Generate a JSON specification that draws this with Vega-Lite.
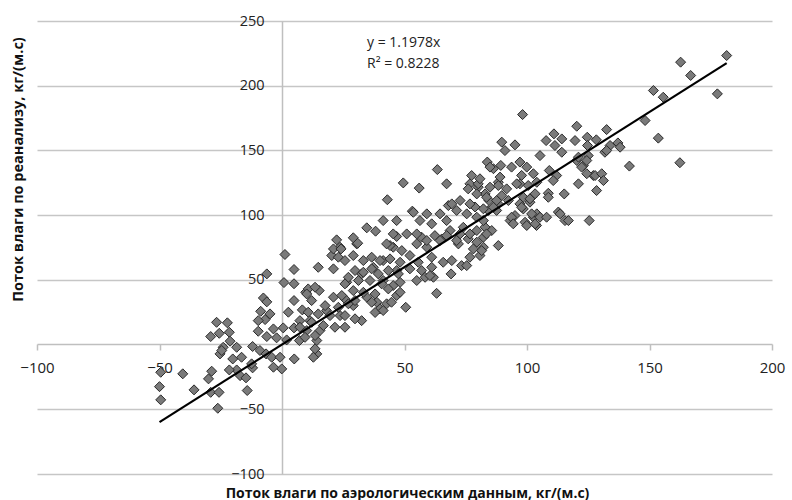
{
  "$schema": "https://vega.github.io/schema/vega-lite/v6.json",
  "width": 735,
  "height": 453,
  "autosize": {"type": "none"},
  "padding": {"left": 37, "top": 21, "right": 20, "bottom": 26},
  "background": "white",
  "config": {"view": {"stroke": null}},
  "datasets": {
    "pts": [
      {"x":1.2,"y":69.6},{"x":-6.2,"y":54.6},{"x":4.9,"y":58},{"x":0.8,"y":47.9},{"x":4.9,"y":47},{"x":9.7,"y":40.4},{"x":-7.6,"y":36},{"x":-6.2,"y":33},{"x":4.9,"y":34},{"x":8.3,"y":26.8},{"x":2.6,"y":25},{"x":-8.7,"y":25.7},{"x":-4.9,"y":23.7},{"x":-6.9,"y":19.3},{"x":-9.7,"y":18.5},{"x":-26.7,"y":17.2},{"x":-22.3,"y":16.8},{"x":-29.1,"y":6.2},{"x":-25.6,"y":8.7},{"x":-21.5,"y":9.5},{"x":-9.7,"y":10.3},{"x":-3.5,"y":12.1},{"x":0.5,"y":12.9},{"x":4.9,"y":12.9},{"x":7.3,"y":18.5},{"x":10.1,"y":10.8},{"x":-6.2,"y":6.2},{"x":-2.2,"y":5.2},{"x":1.9,"y":3.6},{"x":7.1,"y":3.1},{"x":-21.2,"y":2.6},{"x":-24,"y":-2.1},{"x":-18.5,"y":-2.1},{"x":-25.3,"y":-7.2},{"x":-12,"y":-1.5},{"x":-9,"y":-4.6},{"x":-6.5,"y":-7.2},{"x":-4.2,"y":-9.8},{"x":-0.8,"y":-9.8},{"x":-20.1,"y":-11.1},{"x":-16.5,"y":-9.8},{"x":5,"y":-11.1},{"x":-0.1,"y":-18.8},{"x":-3.5,"y":-17.5},{"x":-12,"y":-18},{"x":-18.5,"y":-19.6},{"x":-21.5,"y":-19.6},{"x":-28.7,"y":-20.6},{"x":-49.5,"y":-21.4},{"x":-40.5,"y":-22.6},{"x":-30,"y":-26.5},{"x":-17.1,"y":-24},{"x":-14.7,"y":-25.7},{"x":-50,"y":-32.5},{"x":-35.9,"y":-35},{"x":-29.1,"y":-36.9},{"x":-25.7,"y":-36.9},{"x":-14.2,"y":-35.5},{"x":-49.5,"y":-42.7},{"x":-26.2,"y":-49.2},{"x":-24.6,"y":-4.6},{"x":-12.4,"y":-14.9},
      {"x":14.8,"y":59.7},{"x":20.3,"y":68.8},{"x":23.7,"y":75.2},{"x":30.5,"y":77.8},{"x":21,"y":58.5},{"x":26.4,"y":48.1},{"x":32.5,"y":54.6},{"x":37.3,"y":59.7},{"x":41.3,"y":64.9},{"x":45.4,"y":75.2},{"x":46.8,"y":57.2},{"x":10.7,"y":43},{"x":15.2,"y":41.7},{"x":21,"y":36.6},{"x":25.7,"y":35.3},{"x":29.1,"y":30.1},{"x":34.6,"y":36.6},{"x":38.7,"y":32.7},{"x":42.7,"y":31.5},{"x":46.8,"y":37.9},{"x":18.2,"y":26.3},{"x":23.7,"y":22.4},{"x":32.5,"y":18.5},{"x":11.4,"y":18.5},{"x":15.5,"y":10.8},{"x":7.3,"y":13.4},{"x":14.2,"y":3.1},{"x":14.2,"y":-7.2},{"x":45.4,"y":45.6},{"x":41.3,"y":49.5},{"x":29.1,"y":41.7},
      {"x":23,"y":67.5},{"x":25.7,"y":64.9},{"x":29.1,"y":68.8},{"x":33.2,"y":64.9},{"x":36.6,"y":67.5},{"x":40,"y":64.9},{"x":29.8,"y":57.2},{"x":33.2,"y":55.9},{"x":36.6,"y":58.5},{"x":39.3,"y":54.6},{"x":27.1,"y":52},{"x":31.2,"y":49.5},{"x":35.9,"y":49.5},{"x":40.7,"y":46.9},{"x":25.7,"y":46.9},{"x":13.5,"y":44.3},{"x":10.1,"y":39.1},{"x":24.4,"y":37.9},{"x":33.2,"y":40.4},{"x":38,"y":39.1},{"x":12.1,"y":34},{"x":17.6,"y":30.1},{"x":23,"y":28.8},{"x":27.1,"y":31.5},{"x":29.8,"y":34},{"x":36.6,"y":32.7},{"x":40,"y":27.6},{"x":38,"y":24.8},{"x":10.7,"y":25},{"x":14.8,"y":23.7},{"x":19.6,"y":22.4},{"x":25.7,"y":22.4},{"x":29.8,"y":19.9},{"x":12.1,"y":17.2},{"x":16.9,"y":14.7},{"x":21.6,"y":13.4},{"x":25.7,"y":13.4},{"x":13.5,"y":7},{"x":13.5,"y":-3.3},{"x":12.8,"y":-9.8},{"x":9.4,"y":5.6},
      {"x":34.6,"y":90.2},{"x":38.2,"y":87.6},{"x":29.1,"y":82.5},{"x":30.9,"y":78.3},{"x":22.3,"y":80.9},{"x":21,"y":73.9},{"x":24.1,"y":73.9},
      {"x":46.8,"y":83.5},{"x":57,"y":82.9},{"x":44.1,"y":76.5},{"x":48.9,"y":72.6},{"x":55,"y":77.8},{"x":59.1,"y":75.2},{"x":62.4,"y":84.2},{"x":65.2,"y":81.6},{"x":72,"y":77.8},{"x":72.7,"y":85.5},{"x":44.1,"y":66.2},{"x":48.2,"y":63.6},{"x":52.2,"y":68.8},{"x":55.6,"y":63.6},{"x":61.1,"y":67.5},{"x":65.8,"y":63.6},{"x":69.3,"y":64.9},{"x":43.4,"y":57.2},{"x":47.5,"y":54.6},{"x":52.2,"y":58.5},{"x":57,"y":57.2},{"x":61.1,"y":59.7},{"x":58.4,"y":52},{"x":55,"y":49.5},{"x":61.8,"y":52},{"x":69,"y":54.6},{"x":48.2,"y":48.1},{"x":43.4,"y":43},{"x":48.2,"y":40.4},{"x":63.1,"y":39.6},{"x":44.7,"y":32.7},{"x":50.5,"y":28.8},{"x":41.3,"y":26.3},
      {"x":60.4,"y":53.3},{"x":73.3,"y":61},{"x":80.8,"y":68.8},{"x":82.2,"y":75.2},{"x":67.9,"y":107.4},
      {"x":82.9,"y":90.7},{"x":82.2,"y":82.9},{"x":76,"y":81.7},{"x":79.5,"y":79.1},{"x":78.1,"y":73.9},{"x":81.5,"y":72.6},{"x":76.7,"y":67.5},{"x":75.4,"y":61},{"x":82.9,"y":116.4},{"x":84.5,"y":111.3},{"x":89.7,"y":115.1},{"x":88.3,"y":108.7},{"x":92.4,"y":111.3},{"x":98.5,"y":113.8},{"x":101.9,"y":113.8},{"x":101.2,"y":110},{"x":97.1,"y":108.7},{"x":103.3,"y":116.5},{"x":78.8,"y":106.3},{"x":87.6,"y":103.6},{"x":84.2,"y":103.6},{"x":98.5,"y":104.8},{"x":95.1,"y":99.7},{"x":93.1,"y":95.8},{"x":99.2,"y":94.5},{"x":102.6,"y":98.4},{"x":104,"y":101},{"x":103.9,"y":92},{"x":112.8,"y":102.4},{"x":80.1,"y":121.6},{"x":88.3,"y":125.4},{"x":97.1,"y":124.2},{"x":100.5,"y":122.9},{"x":104,"y":125.4},{"x":120.3,"y":142.2},{"x":123,"y":138.3},{"x":125,"y":146},{"x":127.1,"y":130.6},{"x":131.8,"y":148.6},{"x":76.7,"y":124.2},
      {"x":181.5,"y":223.3},{"x":162.7,"y":218.2},{"x":166.8,"y":207.9},{"x":177.7,"y":193.7},{"x":151.6,"y":196.3},{"x":155.6,"y":191.1},{"x":148.2,"y":173.1},{"x":153.6,"y":159.5},{"x":162.4,"y":140.5},{"x":141.8,"y":137.9},{"x":98.2,"y":177.7},{"x":120.3,"y":168.7},{"x":132.5,"y":166.1},{"x":107.8,"y":157.6},{"x":111,"y":162.8},{"x":114.2,"y":158.9},{"x":111.4,"y":153.8},{"x":114.2,"y":148.6},{"x":119.6,"y":157.6},{"x":124.6,"y":160.2},{"x":128.3,"y":158.2},{"x":133.9,"y":153.8},{"x":137.1,"y":155.8},{"x":138,"y":152.5},{"x":132.5,"y":149.9},{"x":124.7,"y":153.8},{"x":89.7,"y":156.4},{"x":91,"y":149.9},{"x":95.1,"y":154.3},{"x":105.3,"y":146},{"x":83.8,"y":141},{"x":86.3,"y":135.9},{"x":89.3,"y":138.4},{"x":93.7,"y":137.1},{"x":97.1,"y":141},{"x":99.9,"y":137.1},{"x":102.6,"y":132},{"x":97.8,"y":130.7},{"x":109.1,"y":134.5},{"x":112.1,"y":130.6},{"x":110.7,"y":126.7},{"x":121,"y":144.8},{"x":124.4,"y":142.2},{"x":122.3,"y":137.1},{"x":124.4,"y":132},{"x":127.8,"y":130.6},{"x":130.5,"y":132},{"x":131.2,"y":126.7},{"x":128.4,"y":119},{"x":121,"y":124.2},{"x":115.2,"y":116.4},{"x":108.7,"y":116.9},{"x":108.7,"y":113.8},{"x":101.2,"y":112.6},{"x":97.8,"y":106.1},{"x":101.9,"y":101},{"x":93.7,"y":98.4},{"x":94.4,"y":93.3},{"x":99.9,"y":92},{"x":103.3,"y":93.3},{"x":105.3,"y":98.4},{"x":108,"y":98.4},{"x":113.5,"y":101},{"x":115.5,"y":95.8},{"x":116.9,"y":95.8},{"x":125.4,"y":95.8},{"x":63.4,"y":135.2},{"x":67.2,"y":124.2},{"x":49.5,"y":124.9},{"x":56,"y":120.9},{"x":43,"y":111.9},{"x":53.2,"y":103.1},{"x":84.9,"y":137.1},{"x":89,"y":129.4},{"x":88.3,"y":122.9},{"x":91.7,"y":120.3},{"x":95.8,"y":124.2},{"x":84.9,"y":121.6},{"x":80.1,"y":124.2},{"x":77.4,"y":130.6},{"x":80.8,"y":128.1},{"x":76,"y":120.3},{"x":79.5,"y":116.4},{"x":83.5,"y":113.8},{"x":87.6,"y":111.3},{"x":86.3,"y":106.1},{"x":82.2,"y":104.9},{"x":76.7,"y":108.7},{"x":72.7,"y":111.3},{"x":69.3,"y":108.7},{"x":71.3,"y":103.6},{"x":75.4,"y":101},{"x":79.5,"y":98.4},{"x":82.2,"y":95.8},{"x":85.6,"y":88.1},{"x":83.5,"y":85.5},{"x":79.5,"y":88.1},{"x":76.7,"y":85.5},{"x":74,"y":90.6},{"x":68.6,"y":88.1},{"x":67.2,"y":95.8},{"x":64.5,"y":101},{"x":59.1,"y":101},{"x":61.1,"y":93.3},{"x":56.3,"y":95.8},{"x":53.6,"y":102.2},{"x":46.8,"y":95.8},{"x":41.3,"y":95.8},{"x":45.4,"y":85.5},{"x":50.9,"y":85.5},{"x":55,"y":85.5},{"x":67.2,"y":84.2},{"x":71.3,"y":80.4},{"x":42.7,"y":77.8},{"x":59.1,"y":80.4},{"x":64.5,"y":80.4},{"x":88.3,"y":76.5}
    ],
    "trend": [{"x": -50, "y": -59.9}, {"x": 181.5, "y": 217.4}],
    "notes": [{"x": 34.7, "y": 233, "label": "y = 1.1978x"}, {"x": 34.7, "y": 217, "label": "R² = 0.8228"}]
  },
  "layer": [
    {
      "data": {"name": "pts"},
      "mark": {"type": "point", "shape": "diamond", "filled": true, "fill": "#7a7a7a", "stroke": "#2a2a2a", "strokeWidth": 1, "size": 100, "opacity": 1},
      "encoding": {
        "x": {
          "field": "x", "type": "quantitative",
          "scale": {"domain": [-100, 200], "nice": false, "zero": false},
          "axis": {
            "orient": "bottom", "offset": -130, "values": [-100, -50, 50, 100, 150, 200],
            "grid": false, "domainColor": "#bfbfbf", "domainWidth": 1.5,
            "tickColor": "#bfbfbf", "tickSize": 6, "tickWidth": 1.5,
            "labelFont": "Open Sans", "labelFontSize": 15, "labelColor": "#222", "labelPadding": 10,
            "labelOverlap": false, "labelFlush": false, "labelBound": false,
            "title": "Поток влаги по аэрологическим данным, кг/(м.с)",
            "titleFont": "Open Sans", "titleFontSize": 14, "titleFontWeight": "bold", "titleColor": "#111",
            "titleX": 370, "titleY": 149, "titleBaseline": "middle", "titleAlign": "center"
          }
        },
        "y": {
          "field": "y", "type": "quantitative",
          "scale": {"domain": [-100, 250], "nice": false, "zero": false},
          "axis": {
            "orient": "left", "offset": -245, "values": [-100, -50, 50, 100, 150, 200, 250],
            "grid": true, "gridColor": "#c6c6c6", "gridWidth": 1.5,
            "domainColor": "#bfbfbf", "domainWidth": 1.5, "ticks": false,
            "labelFont": "Open Sans", "labelFontSize": 14.5, "labelColor": "#222", "labelPadding": 18,
            "labelOverlap": false, "labelFlush": false, "labelBound": false,
            "title": "Поток влаги по реанализу, кг/(м.с)",
            "titleFont": "Open Sans", "titleFontSize": 14.5, "titleFontWeight": "bold", "titleColor": "#111",
            "titleX": -264, "titleY": 148, "titleBaseline": "middle", "titleAlign": "center", "titleAngle": -90
          }
        }
      }
    },
    {
      "data": {"name": "trend"},
      "mark": {"type": "line", "color": "#000", "strokeWidth": 2.2},
      "encoding": {
        "x": {"field": "x", "type": "quantitative"},
        "y": {"field": "y", "type": "quantitative"}
      }
    },
    {
      "data": {"name": "notes"},
      "mark": {"type": "text", "align": "left", "baseline": "middle", "font": "Open Sans", "fontSize": 14, "color": "#222"},
      "encoding": {
        "x": {"field": "x", "type": "quantitative"},
        "y": {"field": "y", "type": "quantitative"},
        "text": {"field": "label"}
      }
    }
  ]
}
